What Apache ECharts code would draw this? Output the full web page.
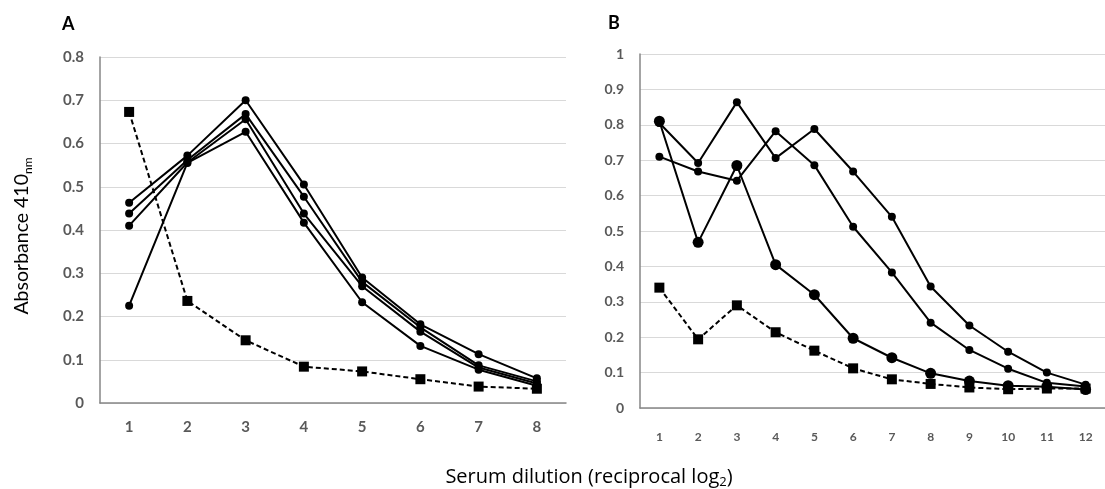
<!DOCTYPE html>
<html>
<head>
<meta charset="utf-8">
<title>Serum dilution</title>
<script src="https://cdn.jsdelivr.net/npm/echarts@6/dist/echarts.min.js"></script>
<style>
  html, body { margin: 0; padding: 0; background: #fff; }
  #chart { width: 1105px; height: 489px; }
</style>
</head>
<body>
<div id="chart"></div>
<script>
// ---- panel A data ----
const dilutionA = ['1', '2', '3', '4', '5', '6', '7', '8']
const serumA1 = [0.463, 0.572, 0.700, 0.505, 0.290, 0.182, 0.113, 0.057]
const serumA2 = [0.438, 0.562, 0.668, 0.477, 0.280, 0.175, 0.087, 0.050]
const serumA3 = [0.410, 0.556, 0.656, 0.438, 0.270, 0.165, 0.082, 0.045]
const serumA4 = [0.225, 0.555, 0.627, 0.417, 0.233, 0.132, 0.077, 0.040]
const controlA = [0.673, 0.236, 0.145, 0.084, 0.073, 0.055, 0.038, 0.033]
const yTicksA = { min: 0, max: 0.8, step: 0.1 }

// ---- panel B data ----
const dilutionB = ['1', '2', '3', '4', '5', '6', '7', '8', '9', '10', '11', '12']
const serumB1 = [0.810, 0.468, 0.685, 0.405, 0.320, 0.197, 0.142, 0.098, 0.076, 0.063, 0.060, 0.052]
const serumB2 = [0.805, 0.692, 0.864, 0.706, 0.788, 0.668, 0.540, 0.343, 0.233, 0.159, 0.100, 0.066]
const serumB3 = [0.710, 0.668, 0.642, 0.782, 0.686, 0.512, 0.383, 0.241, 0.164, 0.111, 0.071, 0.061]
const controlB = [0.340, 0.194, 0.290, 0.214, 0.162, 0.112, 0.081, 0.068, 0.058, 0.053, 0.055, 0.055]
const yTicksB = { min: 0, max: 1, step: 0.1 }

const FONT = 'Lato, "Open Sans", sans-serif'
const LABEL_GREY = '#595959'

function xAxisOf (idx, cats, size, gap) {
  return {
    type: 'category',
    gridIndex: idx,
    data: cats,
    boundaryGap: true,
    axisLine: { lineStyle: { color: '#868686', width: 1.5 } },
    axisTick: { show: false },
    axisLabel: { color: LABEL_GREY, fontWeight: 'bold', fontSize: size, fontFamily: FONT, margin: gap },
    splitLine: { show: false }
  }
}

function yAxisOf (idx, t, size) {
  return {
    type: 'value',
    gridIndex: idx,
    min: t.min,
    max: t.max,
    interval: t.step,
    axisLine: { show: true, lineStyle: { color: '#868686', width: 1.5 } },
    axisTick: { show: false },
    axisLabel: { color: LABEL_GREY, fontWeight: 'bold', fontSize: size, fontFamily: FONT, margin: 16 },
    splitLine: { lineStyle: { color: '#d9d9d9', width: 1 } }
  }
}

// one line per serum, dashed line with squares for the control
function serumLine (data, idx, size) {
  return {
    type: 'line',
    xAxisIndex: idx,
    yAxisIndex: idx,
    data: data,
    symbol: 'circle',
    symbolSize: size,
    itemStyle: { color: '#000' },
    lineStyle: { color: '#000', width: 2 },
    animation: false
  }
}

function controlLine (data, idx) {
  return {
    type: 'line',
    xAxisIndex: idx,
    yAxisIndex: idx,
    data: data,
    symbol: 'rect',
    symbolSize: 10,
    itemStyle: { color: '#000' },
    lineStyle: { color: '#000', width: 2, type: [5, 3] },
    animation: false
  }
}

const chart = echarts.init(document.getElementById('chart'))

const option = {
  backgroundColor: '#fff',
  grid: [
    { left: 100, top: 57, width: 466, height: 346 },
    { left: 640, top: 54, right: -9, height: 354 }
  ],
  xAxis: [xAxisOf(0, dilutionA, 15, 17), xAxisOf(1, dilutionB, 12, 23)],
  yAxis: [yAxisOf(0, yTicksA, 15), yAxisOf(1, yTicksB, 14)],
  series: [
    controlLine(controlA, 0),
    serumLine(serumA1, 0, 8),
    serumLine(serumA2, 0, 8),
    serumLine(serumA3, 0, 8),
    serumLine(serumA4, 0, 8),
    controlLine(controlB, 1),
    serumLine(serumB1, 1, 11),
    serumLine(serumB2, 1, 8),
    serumLine(serumB3, 1, 8)
  ],
  graphic: [
    {
      type: 'text', left: 62, top: 15,
      style: { text: 'A', fontSize: 18, fontWeight: 'bold', fontFamily: FONT, fill: '#000' }
    },
    {
      type: 'text', left: 608, top: 14,
      style: { text: 'B', fontSize: 18, fontWeight: 'bold', fontFamily: FONT, fill: '#000' }
    },
    {
      // y title, rotated, with subscript
      type: 'text', x: 22, y: 236, rotation: Math.PI / 2,
      style: {
        text: 'Absorbance 410{sub|nm}',
        align: 'center',
        verticalAlign: 'middle',
        fontSize: 19.5,
        lineHeight: 24,
        fontFamily: FONT,
        fill: '#000',
        rich: { sub: { fontSize: 12, lineHeight: 12, verticalAlign: 'bottom', fontFamily: FONT, fill: '#000' } }
      }
    },
    {
      // shared x title
      type: 'text', x: 589, y: 477,
      style: {
        text: 'Serum dilution (reciprocal log{sub|2})',
        align: 'center',
        verticalAlign: 'middle',
        fontSize: 20,
        lineHeight: 24,
        fontFamily: '"Open Sans", sans-serif',
        fill: '#000',
        rich: { sub: { fontSize: 13, lineHeight: 13, verticalAlign: 'bottom', fontFamily: '"Open Sans", sans-serif', fill: '#000' } }
      }
    }
  ]
}

chart.setOption(option)
</script>
</body>
</html>
